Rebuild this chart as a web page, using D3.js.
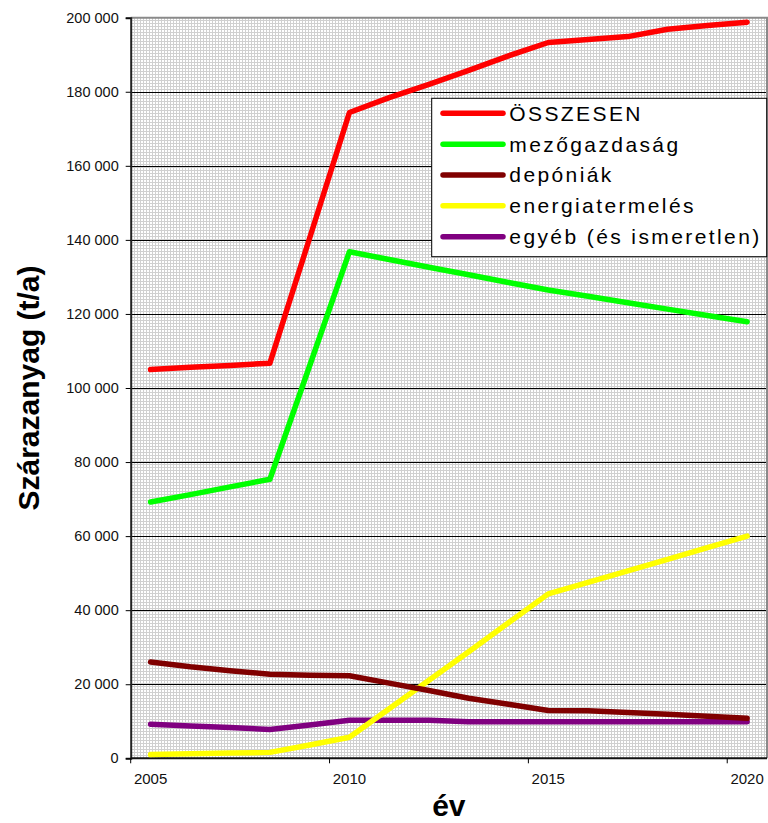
<!DOCTYPE html>
<html>
<head>
<meta charset="utf-8">
<script src="https://cdn.jsdelivr.net/npm/d3@7"></script>
<style>
  html, body { margin: 0; padding: 0; background: #fff; }
  svg { display: block; font-family: "Liberation Sans", Arial, sans-serif; }
</style>
</head>
<body>
<svg id="chart" width="768" height="823"></svg>
<script>
// ---- data ----
const years = [2005, 2006, 2007, 2008, 2009, 2010, 2011, 2012, 2013, 2014, 2015, 2016, 2017, 2018, 2019, 2020];
const xTickLabels = [2005, 2010, 2015, 2020];
const yTicks = [0, 20000, 40000, 60000, 80000, 100000, 120000, 140000, 160000, 180000, 200000];
const seriesNames = ["ÖSSZESEN", "mezőgazdaság", "depóniák", "energiatermelés", "egyéb (és ismeretlen)"];
const osszesen = [105000, 105600, 106100, 106700, 140500, 174400, 178400, 182000, 185800, 189700, 193300, 194100, 194900, 196900, 197900, 198800];
const mezogazdasag = [69200, 71200, 73300, 75350, 106000, 136800, 134700, 132600, 130600, 128500, 126460, 124800, 123000, 121300, 119600, 117900];
const deponiak = [26000, 24700, 23650, 22700, 22400, 22300, 20300, 18300, 16200, 14600, 12900, 12850, 12400, 11900, 11350, 10800];
const energiatermeles = [1000, 1200, 1400, 1600, 3600, 5700, 13400, 21100, 28800, 36600, 44400, 47500, 50600, 53700, 56900, 60000];
const egyeb = [9200, 8700, 8300, 7800, 9000, 10300, 10300, 10300, 9900, 9900, 9900, 9900, 9900, 9900, 9900, 9900];
const colors = ["#ff0000", "#00ff00", "#800000", "#ffff00", "#800080"];
const yTitle = "Szárazanyag (t/a)";
const xTitle = "év";

const allSeries = [osszesen, mezogazdasag, deponiak, energiatermeles, egyeb];

// ---- layout ----
const L = 130.7, R = 767, T = 17.7, B = 758.3;
const svg = d3.select("#chart");

const x = d3.scaleBand().domain(years).range([L, R]).padding(0);
const y = d3.scaleLinear().domain([0, 200000]).range([B, T]);

const loc = d3.formatLocale({decimal: ",", thousands: " ", grouping: [3], currency: ["", ""]});
const fmt = loc.format(",d");

// background pattern
const defs = svg.append("defs");
const pat = defs.append("pattern").attr("id", "grid").attr("patternUnits", "userSpaceOnUse")
  .attr("width", 3).attr("height", 3);
pat.append("rect").attr("width", 3).attr("height", 3).attr("fill", "#ffffff");
pat.append("rect").attr("x", 2).attr("y", 0).attr("width", 1).attr("height", 3).attr("fill", "#d0d0d0");
pat.append("rect").attr("x", 0).attr("y", 2).attr("width", 3).attr("height", 1).attr("fill", "#d0d0d0");

svg.append("rect").attr("x", L).attr("y", T).attr("width", R - L).attr("height", B - T)
  .attr("fill", "url(#grid)");

// major gridlines
svg.append("g").selectAll("line").data(yTicks.filter(d => d > 0 && d < 200000)).join("line")
  .attr("x1", L).attr("x2", R)
  .attr("y1", d => Math.round(y(d)) + 0.5).attr("y2", d => Math.round(y(d)) + 0.5)
  .attr("stroke", "#000").attr("stroke-width", 1);

// plot border (top / right)
svg.append("path")
  .attr("d", `M${L},${T}H${R}V${B}`)
  .attr("fill", "none").attr("stroke", "#8a8a8a").attr("stroke-width", 2);

// y axis
const yAxis = d3.axisLeft(y).tickValues(yTicks).tickFormat(fmt).tickSize(5).tickPadding(7);
const gy = svg.append("g").attr("transform", `translate(${L},0)`).call(yAxis);
gy.select(".domain").attr("stroke", "#222").attr("stroke-width", 2);
gy.selectAll(".tick line").attr("stroke", "#000");
gy.selectAll(".tick text").attr("font-size", "14.5px").attr("fill", "#111")
  .attr("font-family", "'Liberation Sans', Arial, sans-serif");

// x axis: ticks between category groups of 5, labels at category centres
const xTickPos = [0, 5, 10, 15].map(i => x(years[i]));
const gx = svg.append("g");
gx.append("line").attr("x1", L).attr("x2", R).attr("y1", B).attr("y2", B)
  .attr("stroke", "#111").attr("stroke-width", 2);
gx.selectAll("line.tk").data(xTickPos).join("line").attr("class", "tk")
  .attr("x1", d => d).attr("x2", d => d).attr("y1", B).attr("y2", B + 5)
  .attr("stroke", "#000");
gx.selectAll("text").data(xTickLabels).join("text")
  .attr("x", d => x(d) + x.bandwidth() / 2).attr("y", 783.5)
  .attr("text-anchor", "middle").attr("font-size", "15px").attr("fill", "#111")
  .text(d => d);

// series lines
const line = d3.line().x((d, i) => x(years[i]) + x.bandwidth() / 2).y(d => y(d));
const drawOrder = [4, 3, 2, 1, 0];
svg.append("g").selectAll("path").data(drawOrder).join("path")
  .attr("d", i => line(allSeries[i]))
  .attr("fill", "none").attr("stroke", i => colors[i]).attr("stroke-width", 5.5)
  .attr("stroke-linejoin", "round").attr("stroke-linecap", "round");

// legend
const lg = svg.append("g");
lg.append("rect").attr("x", 431.7).attr("y", 98.3).attr("width", 335).attr("height", 158.4)
  .attr("fill", "#fff").attr("stroke", "#000").attr("stroke-width", 1);
const rowY = i => 113.3 + i * 30.85;
lg.selectAll("line").data(seriesNames).join("line")
  .attr("x1", 443).attr("x2", 503).attr("y1", (d, i) => rowY(i)).attr("y2", (d, i) => rowY(i))
  .attr("stroke", (d, i) => colors[i]).attr("stroke-width", 5.5).attr("stroke-linecap", "round");
lg.selectAll("text").data(seriesNames).join("text")
  .attr("x", 509.3).attr("y", (d, i) => rowY(i)).attr("dy", "0.35em")
  .attr("font-size", "21px").attr("letter-spacing", "2.4px").attr("fill", "#000")
  .text(d => d);

// axis titles
svg.append("text").attr("transform", `translate(39,${(T + B) / 2}) rotate(-90)`)
  .attr("text-anchor", "middle").attr("font-size", "30px").attr("font-weight", "bold")
  .attr("fill", "#000").text(yTitle);
svg.append("text").attr("x", (L + R) / 2).attr("y", 816)
  .attr("text-anchor", "middle").attr("font-size", "30px").attr("font-weight", "bold")
  .attr("fill", "#000").text(xTitle);
</script>
</body>
</html>
